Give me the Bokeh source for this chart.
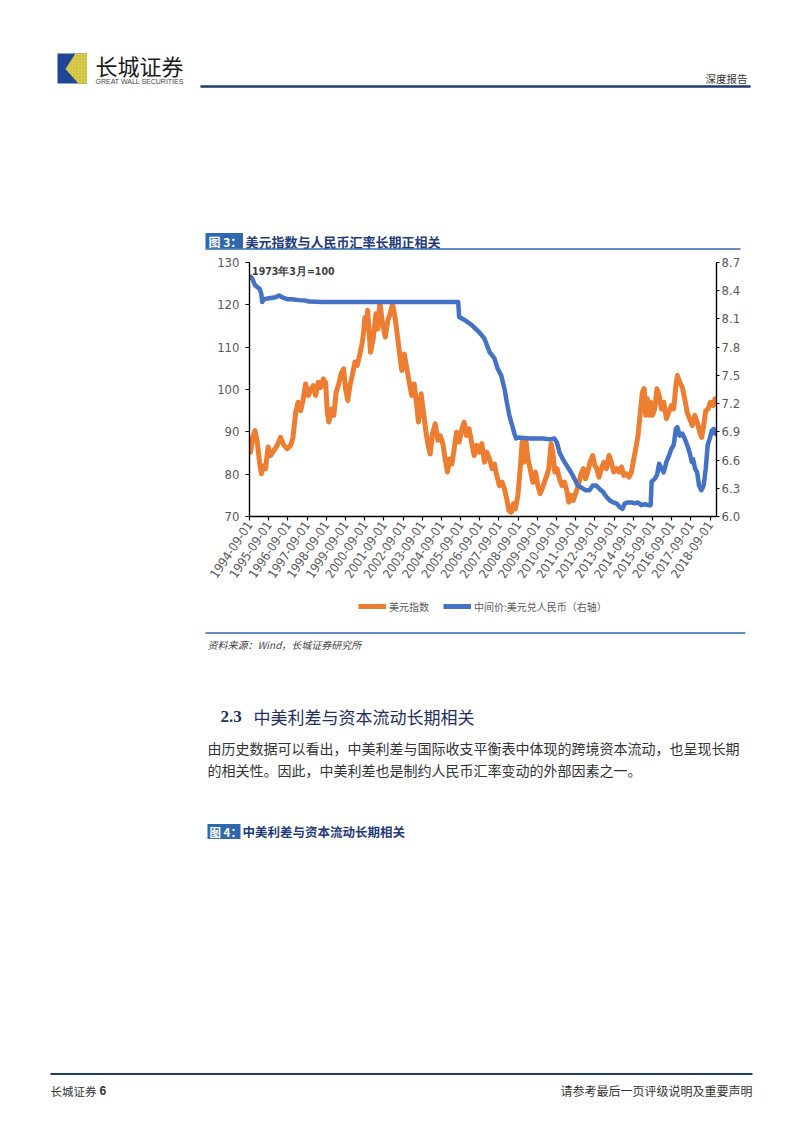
import pandas as pd
from bokeh.plotting import figure
from bokeh.models import (Range1d, LinearAxis, FixedTicker, DatetimeTickFormatter,
                          NumeralTickFormatter, Legend, LegendItem, Label, Plot)
from bokeh.layouts import column
from bokeh.embed import file_html
from bokeh.resources import INLINE
from bokeh.core.properties import value

# ---------------- data ----------------
usd_index_t = [
    1994.67, 1994.72, 1994.84, 1994.95, 1995.07, 1995.19, 1995.28, 1995.42, 1995.50, 1995.64,
    1995.76, 1995.94, 1996.11, 1996.28, 1996.46, 1996.63, 1996.81, 1996.93, 1997.07, 1997.20,
    1997.33, 1997.45, 1997.59, 1997.73, 1997.85, 1997.99, 1998.11, 1998.25, 1998.37, 1998.51,
    1998.63, 1998.72, 1998.80, 1998.94, 1999.06, 1999.18, 1999.32, 1999.44, 1999.57, 1999.67,
    1999.79, 1999.90, 2000.02, 2000.16, 2000.28, 2000.40, 2000.54, 2000.61, 2000.68, 2000.75,
    2000.82, 2000.97, 2001.11, 2001.25, 2001.35, 2001.46, 2001.60, 2001.74, 2001.87, 2002.00,
    2002.12, 2002.26, 2002.38, 2002.50, 2002.60, 2002.73, 2002.85, 2002.99, 2003.12, 2003.25,
    2003.37, 2003.47, 2003.61, 2003.73, 2003.85, 2003.96, 2004.08, 2004.20, 2004.34, 2004.48,
    2004.60, 2004.74, 2004.86, 2004.98, 2005.10, 2005.21, 2005.33, 2005.45, 2005.59, 2005.71,
    2005.85, 2005.97, 2006.11, 2006.25, 2006.37, 2006.51, 2006.63, 2006.77, 2006.91, 2007.03,
    2007.17, 2007.31, 2007.43, 2007.55, 2007.69, 2007.83, 2007.95, 2008.07, 2008.18, 2008.30,
    2008.42, 2008.52, 2008.65, 2008.77, 2008.87, 2008.96, 2009.08, 2009.17, 2009.29, 2009.43,
    2009.57, 2009.69, 2009.81, 2009.91, 2010.03, 2010.16, 2010.26, 2010.38, 2010.47, 2010.57,
    2010.69, 2010.82, 2010.95, 2011.08, 2011.20, 2011.30, 2011.42, 2011.54, 2011.68, 2011.80,
    2011.94, 2012.07, 2012.17, 2012.29, 2012.41, 2012.55, 2012.66, 2012.76, 2012.88, 2013.00,
    2013.13, 2013.26, 2013.40, 2013.52, 2013.65, 2013.78, 2013.92, 2014.05, 2014.17, 2014.31,
    2014.44, 2014.57, 2014.69, 2014.79, 2014.91, 2015.03, 2015.14, 2015.23, 2015.31, 2015.40,
    2015.49, 2015.57, 2015.66, 2015.78, 2015.90, 2016.01, 2016.13, 2016.25, 2016.39, 2016.51,
    2016.65, 2016.77, 2016.88, 2016.96, 2017.08, 2017.22, 2017.34, 2017.47, 2017.60, 2017.74,
    2017.87, 2017.99, 2018.13, 2018.23, 2018.33, 2018.44, 2018.56, 2018.68, 2018.82, 2018.92,
    2018.98,
]
usd_index_v = [
    88.5, 85.2, 88.7, 90.3, 87.6, 82.8, 80.1, 82.0, 81.3, 86.4,
    84.4, 85.6, 86.8, 88.7, 86.8, 86.0, 86.8, 88.7, 94.6, 97.0,
    95.0, 97.4, 101.3, 98.6, 99.8, 100.9, 98.6, 101.7, 100.5, 102.5,
    101.7, 94.6, 92.3, 95.4, 93.9, 99.4, 101.3, 103.7, 104.9, 100.2,
    97.4, 100.9, 103.3, 106.5, 105.7, 108.0, 111.0, 113.5, 117.0, 114.5,
    118.7, 108.8, 112.0, 117.9, 114.3, 120.6, 115.5, 112.4, 116.3, 117.9,
    120.2, 116.7, 112.4, 108.0, 104.5, 108.4, 105.3, 101.7, 98.6, 101.3,
    96.6, 92.3, 99.0, 94.6, 90.3, 87.2, 84.8, 89.5, 91.9, 88.0,
    89.1, 87.2, 83.6, 80.5, 83.6, 82.4, 86.0, 89.9, 87.6, 90.3,
    92.3, 89.1, 90.7, 87.2, 84.4, 86.8, 85.2, 87.2, 82.8, 85.2,
    83.6, 81.3, 82.4, 79.7, 77.3, 78.1, 76.5, 74.2, 71.4, 71.0,
    73.0, 71.8, 75.0, 81.3, 87.6, 82.8, 87.6, 83.6, 81.3, 78.1,
    80.5, 77.3, 75.4, 76.5, 78.1, 79.7, 81.3, 87.2, 85.2, 80.5,
    81.3, 78.9, 77.3, 78.1, 76.1, 73.4, 75.0, 73.8, 75.7, 77.3,
    80.1, 81.3, 78.9, 80.5, 82.8, 84.4, 82.0, 81.3, 79.3, 81.3,
    82.8, 81.3, 84.4, 82.8, 80.5, 81.3, 80.5, 81.7, 79.7, 80.1,
    79.3, 80.5, 83.6, 86.0, 89.1, 94.6, 99.4, 100.2, 93.9, 97.8,
    93.9, 97.0, 93.9, 95.4, 100.2, 98.6, 95.4, 97.0, 93.1, 94.6,
    96.2, 95.4, 100.9, 103.3, 101.7, 100.5, 97.8, 94.6, 93.1, 91.5,
    93.9, 92.3, 89.9, 88.7, 91.5, 95.0, 95.4, 97.0, 96.2, 97.8,
    96.8,
]
cny_mid_t = [
    1994.67, 1994.81, 1994.95, 1995.07, 1995.19, 1995.28, 1995.33, 1995.42, 1995.68, 1996.03,
    1996.20, 1996.37, 1996.63, 1996.89, 1997.24, 1997.59, 1997.76, 1998.50, 2000.00, 2002.00,
    2004.00, 2005.54, 2005.59, 2005.94, 2006.28, 2006.63, 2006.91, 2007.17, 2007.43, 2007.60,
    2007.78, 2007.95, 2008.07, 2008.21, 2008.35, 2008.47, 2008.56, 2008.70, 2009.25, 2009.95,
    2010.29, 2010.55, 2010.68, 2010.82, 2010.99, 2011.20, 2011.42, 2011.60, 2011.77, 2011.94,
    2012.17, 2012.38, 2012.55, 2012.73, 2012.92, 2013.09, 2013.26, 2013.44, 2013.61, 2013.78,
    2013.96, 2014.10, 2014.22, 2014.39, 2014.57, 2014.74, 2014.91, 2015.09, 2015.26, 2015.43,
    2015.57, 2015.62, 2015.78, 2015.90, 2016.01, 2016.13, 2016.25, 2016.39, 2016.53, 2016.65,
    2016.77, 2016.88, 2016.96, 2017.08, 2017.22, 2017.34, 2017.47, 2017.60, 2017.71, 2017.78,
    2017.88, 2017.99, 2018.09, 2018.21, 2018.33, 2018.44, 2018.54, 2018.65, 2018.75, 2018.85,
    2018.92, 2018.98,
]
cny_mid_v = [
    8.56, 8.53, 8.46, 8.44, 8.42, 8.37, 8.28, 8.31, 8.32, 8.33,
    8.35, 8.33, 8.31, 8.31, 8.30, 8.295, 8.285, 8.28, 8.28, 8.28,
    8.28, 8.28, 8.12, 8.08, 8.03, 7.96, 7.89, 7.75, 7.68, 7.57,
    7.50, 7.36, 7.22, 7.07, 6.97, 6.88, 6.83, 6.84, 6.83, 6.83,
    6.82, 6.83, 6.79, 6.68, 6.61, 6.54, 6.47, 6.40, 6.33, 6.31,
    6.28, 6.28, 6.33, 6.33, 6.29, 6.26, 6.21, 6.17, 6.15, 6.14,
    6.10, 6.08, 6.14, 6.15, 6.15, 6.14, 6.15, 6.12, 6.13, 6.12,
    6.12, 6.37, 6.40, 6.44, 6.56, 6.51, 6.47, 6.58, 6.65, 6.72,
    6.76, 6.93, 6.95, 6.86, 6.88, 6.83, 6.76, 6.68, 6.58, 6.61,
    6.51, 6.47, 6.33, 6.28, 6.33, 6.51, 6.76, 6.83, 6.91, 6.93,
    6.88, 6.93,
]
x_tick_labels = [
    "1994-09-01", "1995-09-01", "1996-09-01", "1997-09-01", "1998-09-01",
    "1999-09-01", "2000-09-01", "2001-09-01", "2002-09-01", "2003-09-01",
    "2004-09-01", "2005-09-01", "2006-09-01", "2007-09-01", "2008-09-01",
    "2009-09-01", "2010-09-01", "2011-09-01", "2012-09-01", "2013-09-01",
    "2014-09-01", "2015-09-01", "2016-09-01", "2017-09-01", "2018-09-01",
]
left_ticks = [70, 80, 90, 100, 110, 120, 130]
right_ticks = [6.0, 6.3, 6.6, 6.9, 7.2, 7.5, 7.8, 8.1, 8.4, 8.7]
series_names = ["美元指数", "中间价:美元兑人民币（右轴）"]

# ---------------- helpers ----------------
CJK = "Noto Sans CJK SC"
NARROW = "Liberation Sans Narrow, DejaVu Sans Condensed, sans-serif"
ORANGE = "#ED7D31"
BLUE = "#4472C4"
NAVY = "#1F3A70"
CAP_BLUE = "#2E68AE"
TITLE_BLUE = "#1F3B7A"
HAS_FA = "frame_align" in Plot.properties()


def to_dt(years):
    out = []
    for t in years:
        y = int(t)
        s = pd.Timestamp(year=y, month=1, day=1)
        e = pd.Timestamp(year=y + 1, month=1, day=1)
        out.append(s + (e - s) * (t - y))
    return out


def no_align(f):
    if HAS_FA:
        f.frame_align = False


def page_fig(top, bottom):
    f = figure(width=802, height=bottom - top, x_range=Range1d(0, 802),
               y_range=Range1d(bottom, top), output_backend="svg", toolbar_location=None,
               x_axis_type=None, y_axis_type=None, min_border=0)
    f.outline_line_color = None
    f.background_fill_color = "white"
    f.border_fill_color = "white"
    no_align(f)
    return f


def txt(f, x, y, s, size, color="#333333", font=CJK, style="normal", align="left"):
    f.text(x=[x], y=[y], text=[s], text_font=value(font), text_font_size=value(f"{size}px"),
           text_color=color, text_font_style=style, text_align=align, text_baseline="middle")


# ---------------- header ----------------
HEAD_BOTTOM = 252
head = page_fig(0, HEAD_BOTTOM)
head.quad(left=[57], right=[86.5], top=[53], bottom=[83], fill_color="#1F4596", line_color=None)
head.patch([75, 86.5, 86.5, 78, 65], [53, 53, 83, 83, 68.5], fill_color="#EBD94C",
           line_color=None, hatch_pattern="/", hatch_color="#8C8A3A", hatch_alpha=0.6,
           hatch_scale=3, hatch_weight=0.7)
txt(head, 95, 64.5, "长城证券", 22, color="#1a1a1a")
txt(head, 95, 80.5, "GREAT WALL SECURITIES", 7, color="#444444", font="Liberation Sans")
head.segment(x0=[200], y0=[86], x1=[750], y1=[86], line_color=NAVY, line_width=2.3)
txt(head, 747, 77.5, "深度报告", 10.5, color="#333333", align="right")
head.quad(left=[205], right=[242.5], top=[232.5], bottom=[248], fill_color=CAP_BLUE, line_color=None)
txt(head, 208, 240.5, "图 3：", 12, color="white", style="bold")
txt(head, 245, 240.5, "美元指数与人民币汇率长期正相关", 13, color=TITLE_BLUE, style="bold")
head.segment(x0=[205], y0=[248.5], x1=[740], y1=[248.5], line_color=CAP_BLUE, line_width=1.3)

# ---------------- chart ----------------
CHART_BOTTOM = 596
x_ticks = [pd.Timestamp(s).value / 1e6 for s in x_tick_labels]
p = figure(width=802, height=CHART_BOTTOM - HEAD_BOTTOM, x_axis_type="datetime",
           x_range=Range1d(pd.Timestamp("1994-09-01"), pd.Timestamp("2019-01-01")),
           y_range=Range1d(70, 130), output_backend="svg", toolbar_location=None,
           min_border_left=249, min_border_right=86, min_border_top=262 - HEAD_BOTTOM,
           min_border_bottom=CHART_BOTTOM - 516)
no_align(p)
p.outline_line_color = None
p.grid.visible = False
p.background_fill_color = "white"
p.border_fill_color = "white"
p.extra_y_ranges = {"cny": Range1d(6.0, 8.7)}

r1 = p.line(to_dt(usd_index_t), usd_index_v, line_color=ORANGE, line_width=5,
            line_join="round")
r2 = p.line(to_dt(cny_mid_t), cny_mid_v, line_color=BLUE, line_width=4.5, line_join="round",
            y_range_name="cny")

fmt = "%Y-%m-%d"
xa = p.xaxis[0]
xa.ticker = FixedTicker(ticks=x_ticks)
xa.formatter = DatetimeTickFormatter(years=fmt, months=fmt, days=fmt, hours=fmt,
                                     hourmin=fmt, minutes=fmt, minsec=fmt, seconds=fmt,
                                     milliseconds=fmt, microseconds=fmt)
xa.major_label_orientation = 0.98

ya = p.yaxis[0]
ya.ticker = FixedTicker(ticks=left_ticks)
ya.formatter = NumeralTickFormatter(format="0")

ra = LinearAxis(y_range_name="cny", ticker=FixedTicker(ticks=right_ticks),
                formatter=NumeralTickFormatter(format="0.0"))
p.add_layout(ra, "right")

for ax in (xa, ya, ra):
    ax.axis_line_color = "#000000"
    ax.axis_line_width = 1.4
    ax.major_tick_line_color = "#000000"
    ax.major_tick_line_width = 1.2
    ax.major_tick_in = 0
    ax.major_tick_out = 4
    ax.minor_tick_in = 0
    ax.minor_tick_out = 0
    ax.major_label_text_font = NARROW
    ax.major_label_text_font_size = "13px"
    ax.major_label_text_color = "#595959"
xa.major_label_standoff = 2
xa.major_label_text_font_size = "12.5px"
ya.major_label_standoff = 6
ra.major_tick_out = 3
ra.major_label_standoff = 2

p.add_layout(Label(x=pd.Timestamp("1994-10-20").value / 1e6, y=128.1, text="1973年3月=100",
                   text_font=NARROW, text_font_size="10.5px", text_color="#404040",
                   text_font_style="bold", text_baseline="middle"))

# ---------------- body below chart ----------------
foot = page_fig(CHART_BOTTOM, 1133)
# legend keys of the chart, styled like the two series (kept off the page area)
k1 = foot.line(x=[-50, -40], y=[-50, -50], line_color=ORANGE, line_width=5)
k2 = foot.line(x=[-50, -40], y=[-50, -50], line_color=BLUE, line_width=5)
legend = Legend(items=[LegendItem(label=series_names[0], renderers=[k1]),
                       LegendItem(label=series_names[1], renderers=[k2])],
                orientation="horizontal", location=(358, 1133 - 614),
                border_line_color=None, background_fill_alpha=0, label_text_font=CJK,
                label_text_font_size="10px", label_text_color="#595959", glyph_width=28,
                glyph_height=12, spacing=14, label_standoff=3, padding=0, margin=0,
                label_height=16)
foot.add_layout(legend)

foot.segment(x0=[205], y0=[632.5], x1=[745], y1=[632.5], line_color=CAP_BLUE, line_width=1.5)
txt(foot, 207, 644, "资料来源：Wind，长城证券研究所", 10, color="#444444", style="italic")
txt(foot, 220, 715.5, "2.3", 17, color="#1F2F5F", font="Liberation Serif", style="bold")
txt(foot, 253, 715.5, "中美利差与资本流动长期相关", 17, color="#1F2F5F")
txt(foot, 207, 747, "由历史数据可以看出，中美利差与国际收支平衡表中体现的跨境资本流动，也呈现长期", 14,
    color="#333333")
txt(foot, 207, 769, "的相关性。因此，中美利差也是制约人民币汇率变动的外部因素之一。", 14, color="#333333")
foot.quad(left=[207], right=[240], top=[823.5], bottom=[838.5], fill_color=CAP_BLUE, line_color=None)
txt(foot, 209, 831, "图 4：", 11.5, color="white", style="bold")
txt(foot, 242, 831, "中美利差与资本流动长期相关", 12.5, color=TITLE_BLUE, style="bold")
foot.segment(x0=[50], y0=[1073.5], x1=[752], y1=[1073.5], line_color=NAVY, line_width=2)
txt(foot, 50, 1090, "长城证券", 11.5, color="#333333")
txt(foot, 99, 1090, "6", 12, color="#333333", font="Liberation Sans", style="bold")
txt(foot, 752, 1090, "请参考最后一页评级说明及重要声明", 12, color="#333333", align="right")

layout = column(head, p, foot, spacing=0)
open("out.html", "w").write(file_html(layout, INLINE, title="美元指数与人民币汇率"))
